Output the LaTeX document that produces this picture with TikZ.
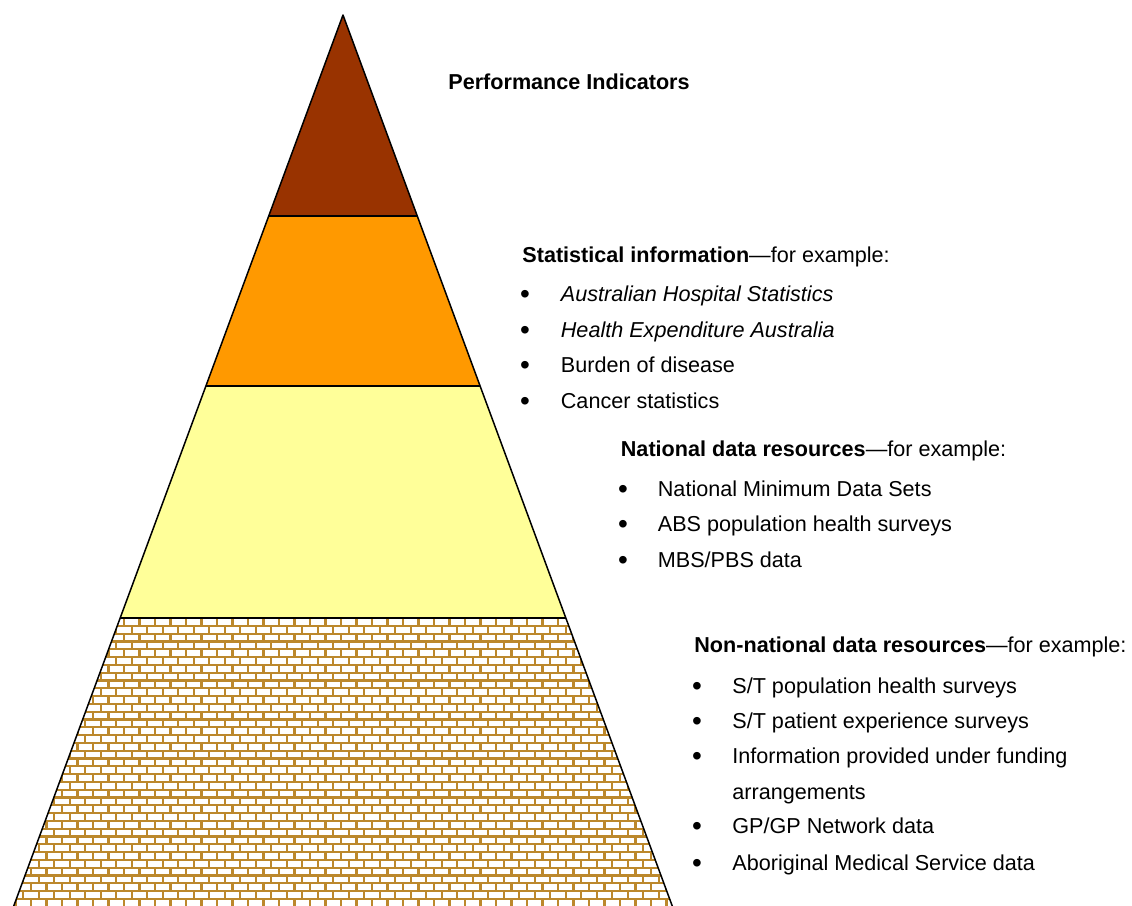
\documentclass[tikz,border=0pt]{standalone}
\usepackage{fontspec}
\setmainfont{Liberation Sans}
\usetikzlibrary{calc}

\definecolor{peak}{RGB}{153,51,0}
\definecolor{stat}{RGB}{255,153,0}
\definecolor{natl}{RGB}{255,255,153}
\definecolor{mortar}{RGB}{188,136,44}

\tikzset{
  txt/.style={anchor=base west,inner sep=0pt,font=\fontsize{10.8}{13}\selectfont},
  bul/.style={anchor=base,inner sep=0pt,yshift=-1pt,font=\fontsize{14}{14}\selectfont},
  layer/.style={draw=black,line width=0.75pt,line join=round},
  brick/.style={draw=mortar,line width=1.1pt}
}

\begin{document}
\begin{tikzpicture}[x=0.5pt,y=-0.5pt]
            \useasboundingbox (0,0) rectangle (1132,906);
            % pyramid corners and band edges
            \coordinate (top) at (343,15);
            \coordinate (bl) at (13,908);
            \coordinate (br) at (673,908);
            \coordinate (1l) at ($(top)!0.2251!(bl)$);
            \coordinate (1r) at ($(top)!0.2251!(br)$);
            \coordinate (2l) at ($(top)!0.4155!(bl)$);
            \coordinate (2r) at ($(top)!0.4155!(br)$);
            \coordinate (3l) at ($(top)!0.6753!(bl)$);
            \coordinate (3r) at ($(top)!0.6753!(br)$);
            \fill[peak] (top) -- (1r) -- (1l) -- cycle;
            \fill[stat] (1l) -- (1r) -- (2r) -- (2l) -- cycle;
            \fill[natl] (2l) -- (2r) -- (3r) -- (3l) -- cycle;
            \fill[white] (3l) -- (3r) -- (br) -- (bl) -- cycle;
            % brick wall at the base
            \begin{scope}
                \clip (3l) -- (3r) -- (br) -- (bl) -- cycle;
                \foreach \r in {0,...,37} {
                    \pgfmathsetmacro\yy{618+\r*7.8}
                    \pgfmathsetmacro\off{mod(\r,2)*7.75}
                    \draw[brick] (0,\yy) -- (700,\yy);
                    \foreach \c in {0,...,45}
                        \draw[brick] (\off+\c*15.5,\yy) -- ++(0,7.8);
                }
            \end{scope}
            \draw[layer] (top) -- (br) -- (bl) -- cycle;
            \draw[layer] (1l) -- (1r) (2l) -- (2r) (3l) -- (3r);
            % labels
            \node[txt] (1) at (448,89) {\textbf{Performance Indicators}};
            \node[txt] (2) at (522,262) {\textbf{Statistical information}---for example:};
            \node[bul] (3) at (525,301.7) {\textbullet};
            \node[txt] (4) at (560.5,301.7) {\textit{Australian Hospital Statistics}};
            \node[bul] (5) at (525,337) {\textbullet};
            \node[txt] (6) at (560.5,337) {\textit{Health Expenditure Australia}};
            \node[bul] (7) at (525,372.7) {\textbullet};
            \node[txt] (8) at (560.5,372.7) {Burden of disease};
            \node[bul] (9) at (525,408) {\textbullet};
            \node[txt] (10) at (560.5,408) {Cancer statistics};
            \node[txt] (11) at (620.5,456.7) {\textbf{National data resources}---for example:};
            \node[bul] (12) at (623,496.7) {\textbullet};
            \node[txt] (13) at (657.5,496.7) {National Minimum Data Sets};
            \node[bul] (14) at (623,531.7) {\textbullet};
            \node[txt] (15) at (657.5,531.7) {ABS population health surveys};
            \node[bul] (16) at (623,567.3) {\textbullet};
            \node[txt] (17) at (657.5,567.3) {MBS/PBS data};
            \node[txt] (18) at (694,652.3) {\textbf{Non-national data resources}---for example:};
            \node[bul] (19) at (697,693.3) {\textbullet};
            \node[txt] (20) at (732,693.3) {S/T population health surveys};
            \node[bul] (21) at (697,728.3) {\textbullet};
            \node[txt] (22) at (732,728.3) {S/T patient experience surveys};
            \node[bul] (23) at (697,763.3) {\textbullet};
            \node[txt] (24) at (732,763.3) {Information provided under funding};
            \node[txt] (25) at (732,799) {arrangements};
            \node[bul] (26) at (697,833.3) {\textbullet};
            \node[txt] (27) at (732,833.3) {GP/GP Network data};
            \node[bul] (28) at (697,870) {\textbullet};
            \node[txt] (29) at (732,870) {Aboriginal Medical Service data};
        \end{tikzpicture}
\end{document}
